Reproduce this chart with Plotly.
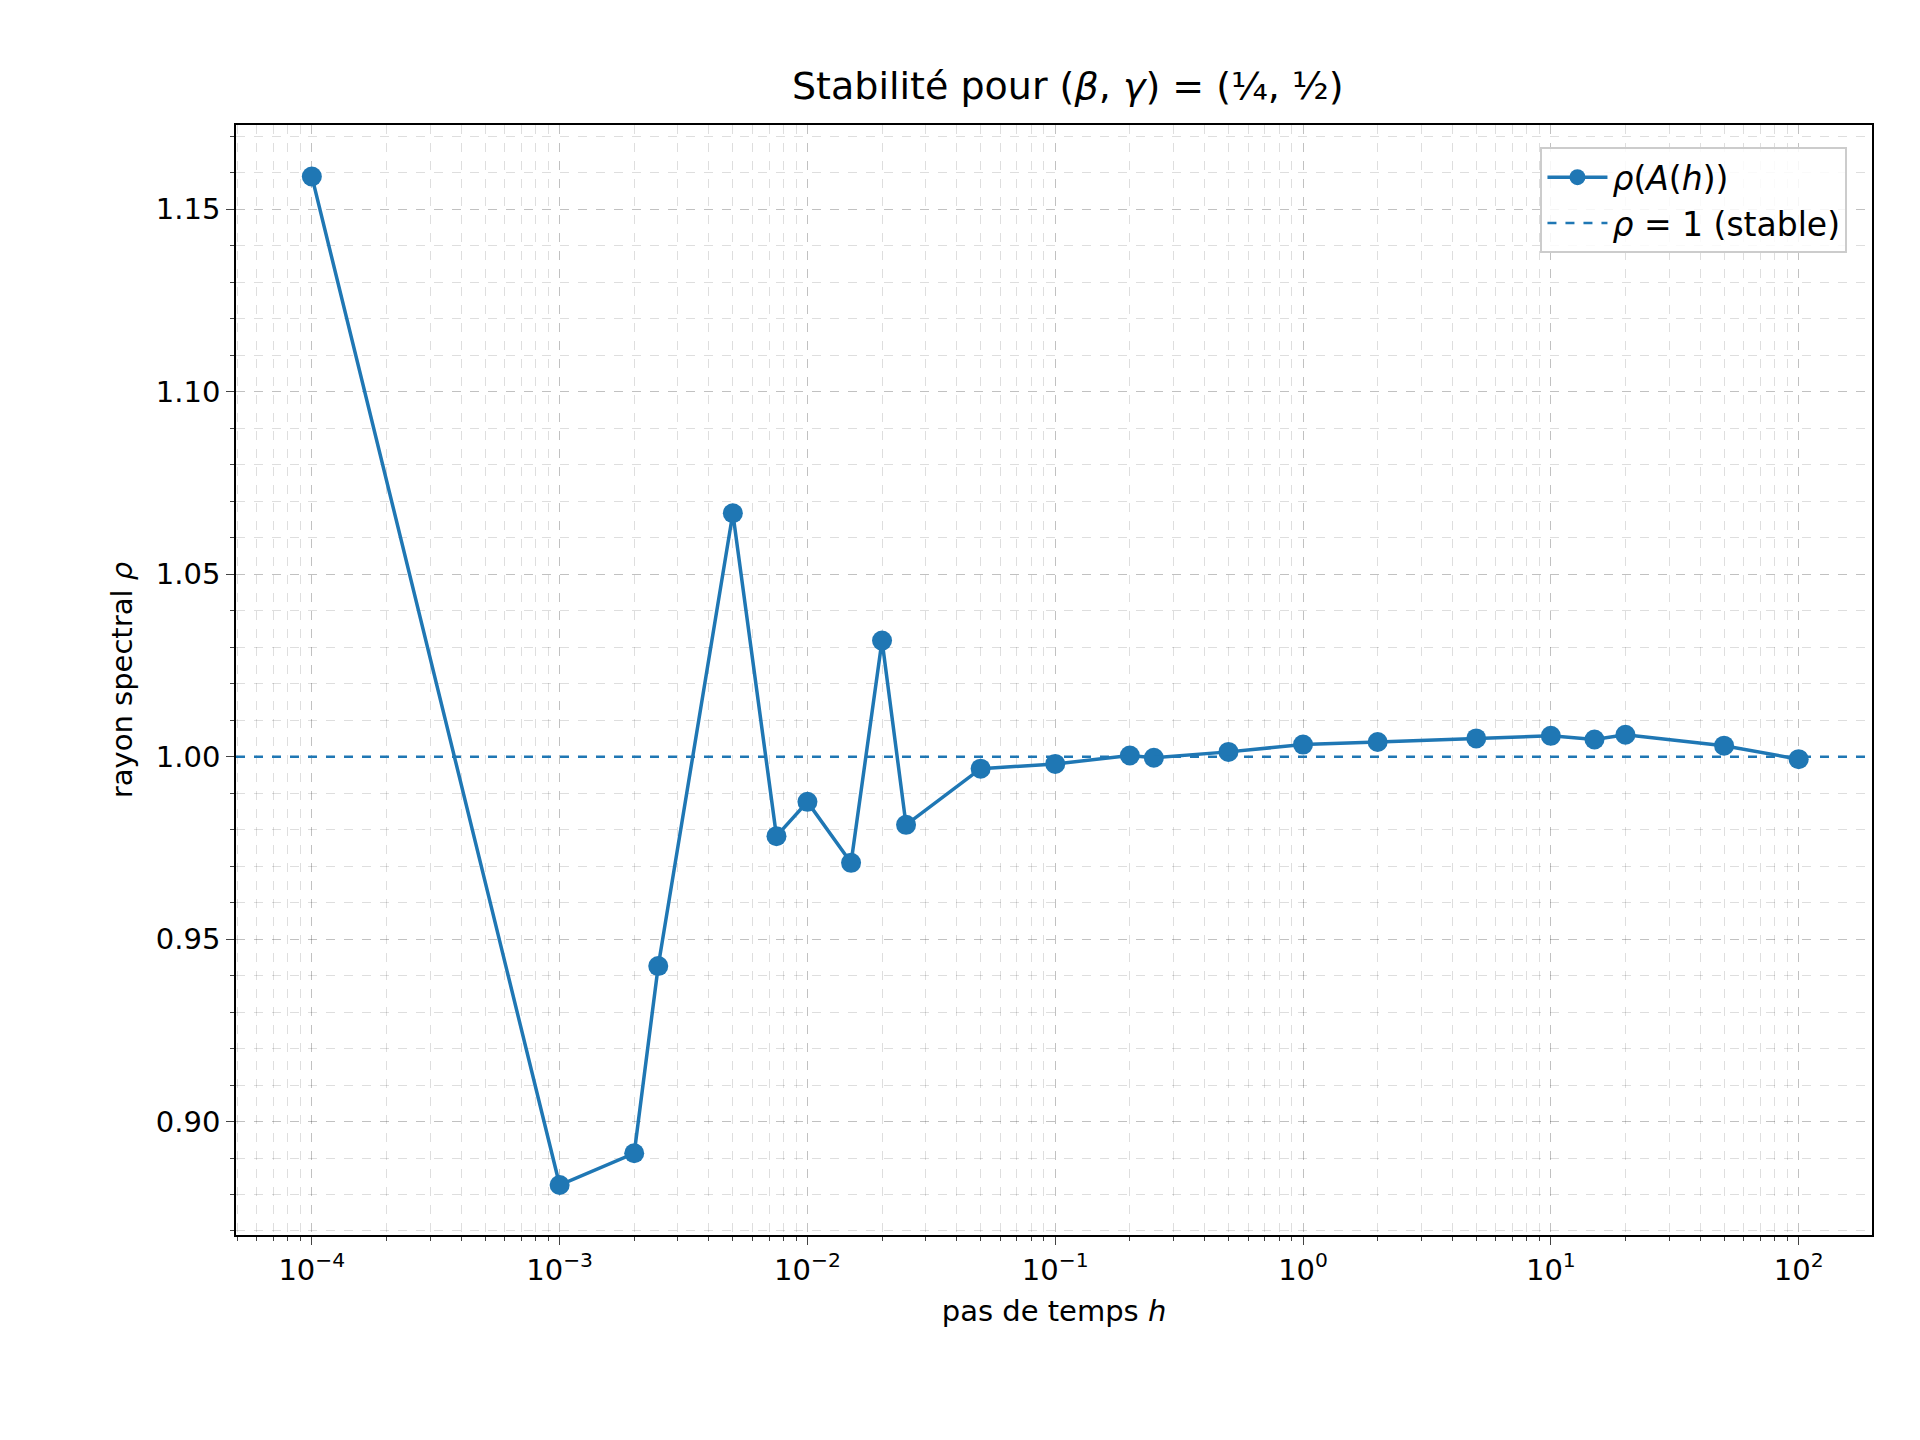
import plotly.graph_objects as go

h = [1e-4, 1e-3, 2e-3, 2.5e-3, 5e-3, 7.5e-3, 1e-2, 1.5e-2, 2e-2, 2.5e-2, 5e-2, 0.1,
     0.2, 0.25, 0.5, 1, 2, 5, 10, 15, 20, 50, 100]
rho = [1.159, 0.8826, 0.8913, 0.9426, 1.0667, 0.9782, 0.9876, 0.9709, 1.0318, 0.9813,
       0.9967, 0.998, 1.0003, 0.9997, 1.0013, 1.0033, 1.004, 1.005, 1.0057, 1.0047,
       1.006, 1.003, 0.9993]
xtick_vals = [1e-4, 1e-3, 1e-2, 1e-1, 1, 10, 100]
xtick_text = ["10<sup>−4</sup>", "10<sup>−3</sup>", "10<sup>−2</sup>", "10<sup>−1</sup>",
              "10<sup>0</sup>", "10<sup>1</sup>", "10<sup>2</sup>"]
ytick_vals = [0.90, 0.95, 1.00, 1.05, 1.10, 1.15]

blue = "#1f77b4"
fig = go.Figure()
fig.add_trace(go.Scatter(x=h, y=rho, mode="lines+markers", name="<i>ρ</i>(<i>A</i>(<i>h</i>))",
                         line=dict(color=blue, width=3.5), marker=dict(size=20, color=blue)))
fig.add_trace(go.Scatter(x=[10**-4.306, 10**2.296], y=[1, 1], mode="lines",
                         name="<i>ρ</i> = 1 (stable)",
                         line=dict(color=blue, width=2.5, dash="dash")))

grid = "rgba(0,0,0,0.13)"
fig.update_xaxes(type="log", range=[-4.306, 2.296], tickvals=xtick_vals, ticktext=xtick_text,
                 showgrid=True, gridcolor=grid, griddash="dash", ticks="outside", ticklen=8,
                 minor=dict(showgrid=True, gridcolor=grid, griddash="dash", ticks="outside", ticklen=4,
                            dtick="D1"),
                 showline=True, linecolor="black", linewidth=1.5, mirror=True, zeroline=False,
                 title=dict(text="pas de temps <i>h</i>", font=dict(size=29)), tickfont=dict(size=29))
fig.update_yaxes(range=[0.8689, 1.1731], tickvals=ytick_vals, tickformat=".2f",
                 showgrid=True, gridcolor=grid, griddash="dash", ticks="outside", ticklen=8,
                 minor=dict(showgrid=True, gridcolor=grid, griddash="dash", ticks="outside", ticklen=4,
                            dtick=0.01),
                 showline=True, linecolor="black", linewidth=1.5, mirror=True, zeroline=False,
                 title=dict(text="rayon spectral <i>ρ</i>", font=dict(size=29)), tickfont=dict(size=29))
fig.update_layout(
    width=1920, height=1440, plot_bgcolor="white", paper_bgcolor="white",
    font=dict(family="DejaVu Sans", color="black"),
    title=dict(text="Stabilité pour (<i>β</i>, <i>γ</i>) = (¼, ½)", x=0.552, y=0.955,
               xanchor="center", font=dict(size=38)),
    margin=dict(l=228, r=56, t=117, b=213),
    legend=dict(x=0.985, y=0.98, xanchor="right", yanchor="top", bordercolor="#cccccc",
                borderwidth=2, bgcolor="rgba(255,255,255,0.85)", font=dict(size=33),
                itemwidth=60),
)
fig.write_html("out.html")
